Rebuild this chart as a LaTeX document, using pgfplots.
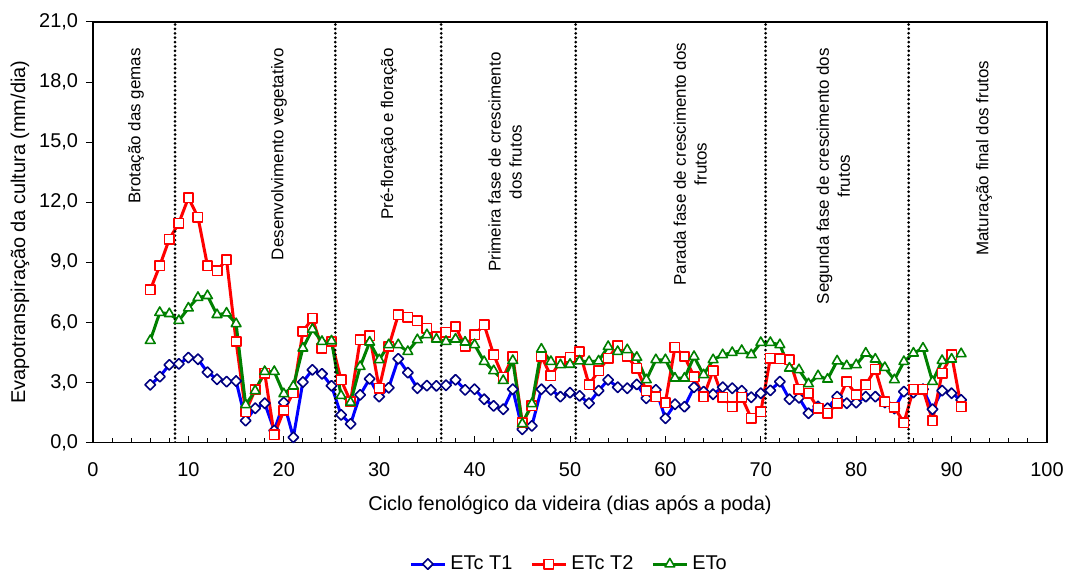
\documentclass[border=0pt]{standalone}
\usepackage{pgfplots}
\pgfplotsset{compat=1.18}
\usepackage{pgfplotstable}
\usepackage{fontspec}
\setmainfont{Liberation Sans}

\definecolor{t1line}{RGB}{0,0,255}
\definecolor{t1mark}{RGB}{0,0,128}
\definecolor{t2line}{RGB}{255,0,0}
\definecolor{etoline}{RGB}{0,128,0}

% dia, ETc T1, ETc T2, ETo (mm/dia)
\pgfplotstableread{
dia t1 t2 eto
6 2.88 7.62 5.09
7 3.29 8.83 6.49
8 3.88 10.16 6.43
9 3.93 10.96 6.09
10 4.24 12.22 6.71
11 4.16 11.26 7.24
12 3.51 8.83 7.33
13 3.16 8.58 6.38
14 3.04 9.13 6.46
15 3.07 5.04 5.93
16 1.09 1.54 1.88
17 1.71 2.63 2.58
18 1.96 3.46 3.54
19 0.60 0.38 3.54
20 2.00 1.60 2.43
21 0.26 2.49 2.81
22 3.02 5.54 4.71
23 3.63 6.20 5.65
24 3.43 4.71 5.04
25 2.83 5.04 5.07
26 1.38 3.13 2.34
27 0.93 2.04 2.00
28 2.38 5.13 3.79
29 3.18 5.33 5.01
30 2.29 2.71 4.13
31 2.73 4.79 4.88
32 4.18 6.38 4.88
33 3.49 6.26 4.54
34 2.71 6.08 5.13
35 2.84 5.71 5.38
36 2.83 5.29 5.16
37 2.86 5.51 5.04
38 3.13 5.79 5.16
39 2.63 4.79 5.01
40 2.66 5.38 4.88
41 2.16 5.88 4.04
42 1.83 4.38 3.58
43 1.66 3.26 3.09
44 2.66 4.29 4.09
45 0.66 0.99 0.93
46 0.83 1.83 1.93
47 2.66 4.29 4.66
48 2.63 3.33 4.04
49 2.29 4.04 3.88
50 2.49 4.26 3.90
51 2.33 4.54 4.07
52 1.96 2.88 4.04
53 2.59 3.59 4.07
54 3.13 4.21 4.79
55 2.76 4.84 4.54
56 2.71 4.29 4.63
57 2.90 3.71 4.25
58 2.21 2.59 3.13
59 2.63 2.29 4.13
60 1.21 1.99 4.13
61 1.91 4.76 3.21
62 1.79 4.29 3.21
63 2.76 3.29 4.29
64 2.54 2.29 3.38
65 2.41 3.59 4.13
66 2.76 2.26 4.38
67 2.71 1.79 4.49
68 2.59 2.26 4.59
69 2.26 1.21 4.38
70 2.46 1.54 4.99
71 2.60 4.21 4.99
72 3.04 4.18 4.88
73 2.16 4.13 3.71
74 2.23 2.66 3.63
75 1.46 2.46 2.93
76 1.80 1.71 3.33
77 1.71 1.46 3.16
78 2.29 1.96 4.07
79 1.96 3.04 3.83
80 1.99 2.38 3.88
81 2.29 2.88 4.46
82 2.29 3.66 4.16
83 2.00 2.04 3.74
84 1.70 1.76 3.13
85 2.54 0.99 4.04
86 2.49 2.66 4.46
87 2.66 2.66 4.71
88 1.66 1.09 3.04
89 2.59 3.46 4.09
90 2.46 4.38 4.16
91 2.13 1.79 4.43
}\dados

\begin{document}
\begin{tikzpicture}
\useasboundingbox (-46.5bp,-64.25bp) rectangle (487.5bp,221.25bp);
\begin{axis}[
  scale only axis,
  width=477bp, height=210.25bp,
  xmin=0, xmax=100, ymin=0, ymax=21,
  xtick={0,10,...,100}, minor x tick num=4,
  ytick={0,3,...,21},
  xtick pos=bottom, ytick pos=left,
  tick align=inside,
  major tick length=3.5bp, minor tick length=2.5bp,
  ytick style={xshift=-3.5bp},
  tick style={black, line width=0.5bp},
  axis line style={black, line width=0.6bp},
  /pgf/number format/assume math mode=true,
  font=\fontsize{10}{12}\selectfont,
  yticklabel style={xshift=-4bp, /pgf/number format/.cd, fixed, fixed zerofill, precision=1, use comma},
  xticklabel style={yshift=-6.5bp},
  xlabel={Ciclo fenológico da videira (dias após a poda)},
  ylabel={Evapotranspiração da cultura (mm/dia)},
  xlabel style={at={(axis description cs:0.5,-0.148)}, anchor=center},
  ylabel style={at={(axis description cs:-0.0765,0.5)}, anchor=center},
  legend style={at={(axis description cs:0.5,-0.289)}, anchor=center, draw=none,
    legend columns=3, font=\fontsize{10}{12}\selectfont,
    /tikz/every even column/.append style={column sep=7bp}},
  legend cell align=left,
  every axis plot/.append style={line width=1.5bp, line join=round},
]

\addplot[t1line, mark=square*, mark size=1.85bp,
  mark options={rotate=45, fill=white, draw=t1mark, line width=0.8bp, solid}]
  table[x=dia, y=t1] {\dados};
\addlegendentry{ETc T1}

\addplot[t2line, mark=square*, mark size=2.35bp,
  mark options={fill=white, draw=t2line, line width=0.8bp, solid}]
  table[x=dia, y=t2] {\dados};
\addlegendentry{ETc T2}

\addplot[etoline, mark=triangle*, mark size=2.8bp,
  mark options={fill=white, draw=etoline, line width=0.8bp, solid}]
  table[x=dia, y=eto] {\dados};
\addlegendentry{ETo}

% limites das fases fenologicas
\foreach \xf in {8.6,25.4,36.5,50.6,70.5,85.5} {
  \edef\temp{\noexpand\addplot[forget plot, black, line width=1.5bp, line cap=round,
    dash pattern=on 0pt off 2.2bp] coordinates {(\xf,0) (\xf,21)};}
  \temp
}

\begin{scope}[every node/.style={rotate=90, align=center, font=\fontsize{8.5}{10.5}\selectfont}]
\node at (axis cs:4.5,15.8) {Brotação das gemas};
\node at (axis cs:19.5,14.4) {Desenvolvimento vegetativo};
\node at (axis cs:31.0,15.4) {Pré-floração e floração};
\node at (axis cs:43.2,14.0) {Primeira fase de crescimento\\dos frutos};
\node at (axis cs:62.6,13.9) {Parada fase de crescimento dos\\frutos};
\node at (axis cs:77.6,13.3) {Segunda fase de crescimento dos\\frutos};
\node at (axis cs:93.4,14.2) {Maturação final dos frutos};
\end{scope}

\end{axis}
\end{tikzpicture}
\end{document}
